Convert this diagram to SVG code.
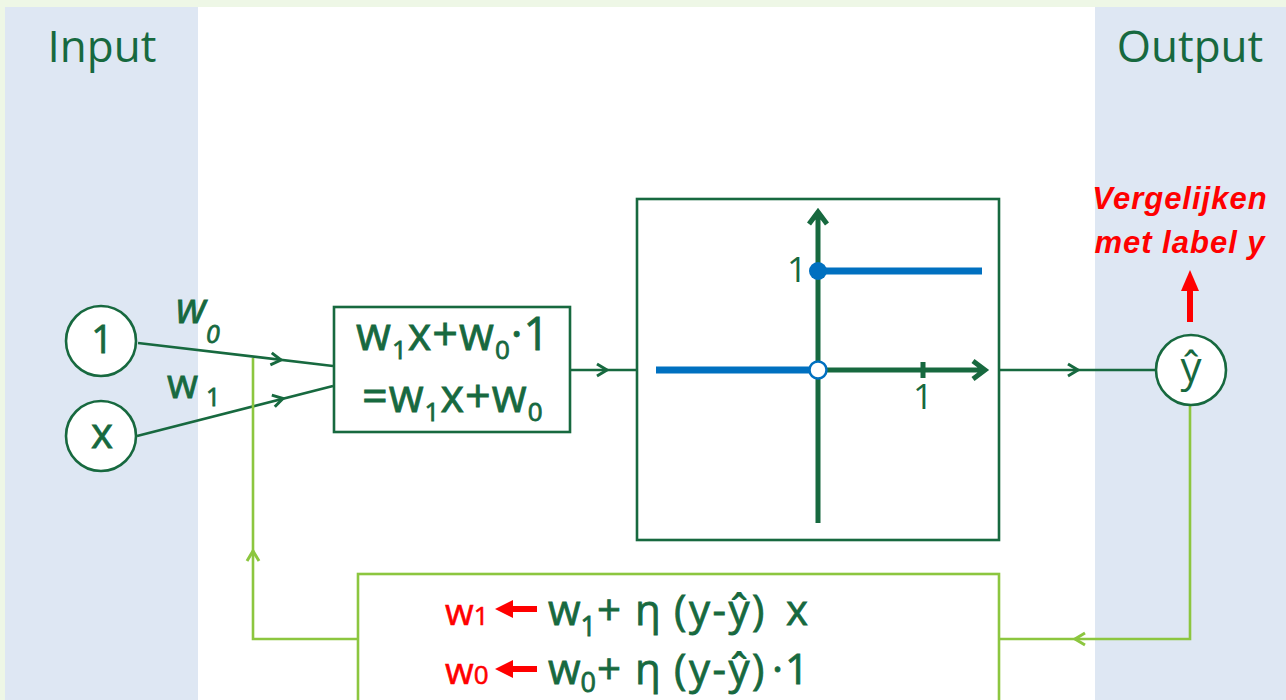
<svg xmlns="http://www.w3.org/2000/svg" width="1286" height="700" viewBox="0 0 1286 700">
<defs>
<style>
.t{font-family:"Open Sans","Noto Sans","Liberation Sans",sans-serif;fill:#17693f}
.b{stroke:#17693f;stroke-width:0.8}
.r{font-family:"Open Sans","Noto Sans","Liberation Sans",sans-serif;fill:#ff0000;stroke:#ff0000;stroke-width:0.6}
.ri{font-family:"Liberation Sans","Arial",sans-serif;font-weight:bold;font-style:italic;fill:#ff0000}
.dg{stroke:#17693f;stroke-width:2.6;fill:none}
.lg{stroke:#8cc63f;stroke-width:2.6;fill:none}
.cd{stroke:#17693f;stroke-width:3;fill:none;stroke-linejoin:miter}
.cl{stroke:#8cc63f;stroke-width:3;fill:none;stroke-linejoin:miter}
.nd{fill:#fff;stroke:#17693f;stroke-width:2.6}
</style>
<path id="chv" d="M-10,-6 L0,0 L-10,6"/>
</defs>
<rect x="0" y="0" width="1286" height="700" fill="#eef7e6"/>
<rect x="5" y="7" width="1281" height="693" fill="#ffffff"/>
<rect x="5" y="7" width="193" height="693" fill="#dee7f3"/>
<rect x="1095" y="7" width="191" height="693" fill="#dee7f3"/>
<text class="t" x="102" y="62" font-size="44" text-anchor="middle">Input</text>
<text class="t" x="1190" y="62" font-size="44" text-anchor="middle">Output</text>

<g id="connectors">
<path class="dg" d="M138,343 L333,366"/>
<use href="#chv" class="cd" transform="translate(281,360) rotate(6.7)"/>
<path class="dg" d="M137,436 L333,386"/>
<use href="#chv" class="cd" transform="translate(283,398.5) rotate(-14.3)"/>
<path class="dg" d="M570,370 H637"/>
<use href="#chv" class="cd" transform="translate(607,370)"/>
<path class="dg" d="M999,370 H1156"/>
<use href="#chv" class="cd" transform="translate(1078,370)"/>
<path class="lg" d="M358,639 H253 V358"/>
<use href="#chv" class="cl" transform="translate(253,551) rotate(-90)"/>
<path class="lg" d="M1190,405 V639 H999"/>
<use href="#chv" class="cl" transform="translate(1075,639) rotate(180)"/>
<path d="M1190,322 V288" stroke="#ff0000" stroke-width="6" fill="none"/>
<polygon points="1181,291 1190,270 1199,291" fill="#ff0000"/>
</g>

<g id="w-labels">
<text class="t b" x="176" y="323" font-size="42" font-style="italic">w<tspan font-size="25" dy="20">0</tspan></text>
<text class="t b" x="167" y="398" font-size="40">w<tspan font-size="25" dx="8" dy="8">1</tspan></text>
</g>

<g id="node-1">
<circle class="nd" cx="101" cy="341" r="35"/>
<text class="t b" x="102" y="353" font-size="38" text-anchor="middle">1</text>
</g>
<g id="node-x">
<circle class="nd" cx="101" cy="436" r="35"/>
<text class="t b" x="102" y="448" font-size="42" text-anchor="middle">x</text>
</g>

<g id="node-sum">
<rect x="334" y="307" width="236" height="125" fill="#fff" stroke="#17693f" stroke-width="2.6"/>
<text class="t b" x="356" y="350" font-size="45" letter-spacing="1">w<tspan font-size="26" dy="9">1</tspan><tspan dy="-9">x+w</tspan><tspan font-size="26" dy="9">0</tspan><tspan dy="-9">·1</tspan></text>
<text class="t b" x="362" y="412" font-size="45" letter-spacing="1">=w<tspan font-size="26" dy="9">1</tspan><tspan dy="-9">x+w</tspan><tspan font-size="26" dy="9">0</tspan></text>
</g>

<g id="node-step">
<rect x="637" y="199" width="362" height="341" fill="#fff" stroke="#17693f" stroke-width="2.6"/>
<path d="M818,523 V212 M809,224 L818,212 L827,224" fill="none" stroke="#17693f" stroke-width="5"/>
<path d="M818,370 H985 M973,361 L985,370 L973,379" fill="none" stroke="#17693f" stroke-width="5"/>
<path d="M923,362 V378" stroke="#17693f" stroke-width="5"/>
<path d="M656,370 H818 M818,271 H982" stroke="#0070c0" stroke-width="7" fill="none"/>
<circle cx="818" cy="271" r="9" fill="#0070c0"/>
<circle cx="818" cy="370" r="8.5" fill="#fff" stroke="#0070c0" stroke-width="2.5"/>
<text class="t" x="797" y="282" font-size="35" text-anchor="middle">1</text>
<text class="t" x="923" y="409" font-size="35" text-anchor="middle">1</text>
</g>

<g id="node-yhat">
<circle class="nd" cx="1191" cy="370" r="35"/>
<text class="t" x="1191" y="382" font-size="42" text-anchor="middle">ŷ</text>
</g>

<g id="compare-label">
<text class="ri" x="1180" y="209" font-size="31" text-anchor="middle" letter-spacing="1">Vergelijken</text>
<text class="ri" x="1180" y="253" font-size="31" text-anchor="middle" letter-spacing="1">met label y</text>
</g>

<g id="node-update">
<rect x="358" y="574" width="641" height="140" fill="#fff" stroke="#8cc63f" stroke-width="2.6"/>
<text class="r" x="445" y="625" font-size="37">w<tspan font-size="26">1</tspan></text>
<text class="r" x="445" y="684" font-size="37">w<tspan font-size="26">0</tspan></text>
<path d="M537,609 H508 M537,669 H508" stroke="#ff0000" stroke-width="6"/>
<polygon points="495,609 513,600 513,618" fill="#ff0000"/>
<polygon points="495,669 513,660 513,678" fill="#ff0000"/>
<text class="t b" x="548" y="625" font-size="42">w<tspan font-size="27" dy="11">1</tspan><tspan x="597" dy="-11">+</tspan><tspan x="635">η</tspan><tspan x="674" letter-spacing="2.5">(y-ŷ)</tspan><tspan x="786">x</tspan></text>
<text class="t b" x="548" y="684" font-size="42">w<tspan font-size="27" dy="8">0</tspan><tspan x="597" dy="-8">+</tspan><tspan x="635">η</tspan><tspan x="674" letter-spacing="2.5">(y-ŷ)</tspan><tspan x="772">·</tspan><tspan x="785">1</tspan></text>
</g>
</svg>
